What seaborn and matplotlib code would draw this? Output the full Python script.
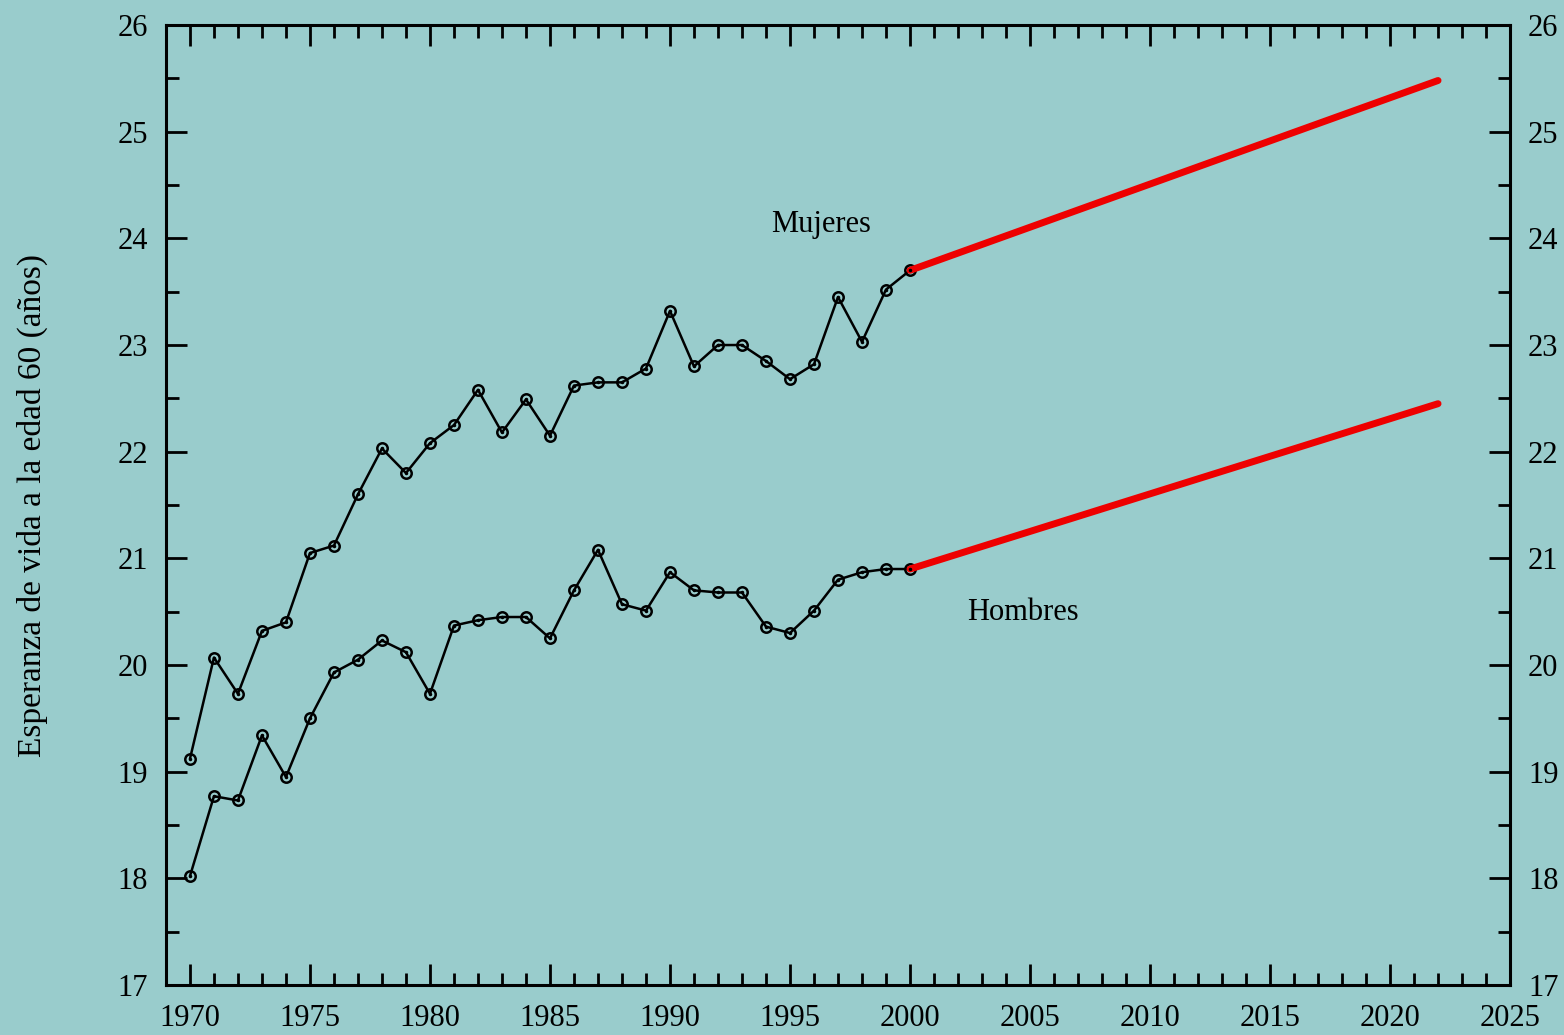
import numpy as np
import pandas as pd
import matplotlib
matplotlib.use("Agg")
import matplotlib.pyplot as plt
import seaborn as sns
from matplotlib.ticker import MultipleLocator

years = list(range(1970, 2001))
mujeres = [19.12, 20.07, 19.73, 20.32, 20.40, 21.05, 21.12, 21.60, 22.03, 21.80,
           22.08, 22.25, 22.58, 22.18, 22.49, 22.15, 22.62, 22.65, 22.65, 22.78,
           23.32, 22.80, 23.00, 23.00, 22.85, 22.68, 22.82, 23.45, 23.03, 23.52,
           23.70]
hombres = [18.02, 18.77, 18.73, 19.34, 18.95, 19.50, 19.93, 20.05, 20.23, 20.12,
           19.73, 20.37, 20.42, 20.45, 20.45, 20.25, 20.70, 21.08, 20.57, 20.51,
           20.87, 20.70, 20.68, 20.68, 20.36, 20.30, 20.51, 20.80, 20.87, 20.90,
           20.90]

# Projections
proj_years = [2000, 2022]
proj_mujeres = [23.70, 25.48]
proj_hombres = [20.90, 22.45]

bg = "#99cccc"
sns.set_style("ticks", {"axes.facecolor": bg, "figure.facecolor": bg,
                        "text.color": "black", "axes.labelcolor": "black"})
plt.rcParams['font.family'] = ['Liberation Serif', 'DejaVu Serif']

df = pd.DataFrame({'year': years + years,
                   'value': mujeres + hombres,
                   'sexo': ['Mujeres'] * len(years) + ['Hombres'] * len(years)})
df_proj = pd.DataFrame({'year': proj_years + proj_years,
                        'value': proj_mujeres + proj_hombres,
                        'sexo': ['Mujeres'] * 2 + ['Hombres'] * 2})

fig = plt.figure(figsize=(15.64, 10.35), dpi=100)
ax = fig.add_axes([0.1061, 0.0483, 0.8594, 0.9275])

for sexo in ['Mujeres', 'Hombres']:
    sub = df[df['sexo'] == sexo]
    sns.lineplot(data=sub, x='year', y='value', color='black',
                 linewidth=1.8, marker='o', markersize=7.5, markerfacecolor='none',
                 markeredgecolor='black', markeredgewidth=1.8, ax=ax)
    sns.lineplot(data=df_proj[df_proj['sexo'] == sexo], x='year', y='value',
                 color='#ee0000', linewidth=5, solid_capstyle='round', ax=ax)
    # small dot inside markers
    ax.plot(sub['year'], sub['value'], linestyle='none', marker='o', markersize=1.5,
            color='black')

ax.set_xlim(1969, 2025)
ax.set_ylim(17, 26)
ax.xaxis.set_major_locator(MultipleLocator(5))
ax.xaxis.set_minor_locator(MultipleLocator(1))
ax.yaxis.set_major_locator(MultipleLocator(1))
ax.yaxis.set_minor_locator(MultipleLocator(0.5))
ax.set_xticks(range(1970, 2026, 5))

ax.tick_params(which='both', direction='in', top=True, right=True,
               labelright=True, width=2, labelsize=22, colors='black')
ax.tick_params(axis='x', which='major', pad=14)
ax.tick_params(axis='y', which='major', pad=13)
ax.tick_params(which='major', length=15)
ax.tick_params(which='minor', length=9)
for s in ax.spines.values():
    s.set_linewidth(2.2)
    s.set_color('black')

ax.set_xlabel('')
ax.set_ylabel('Esperanza de vida a la edad 60 (años)', fontsize=24, labelpad=50,
              color='black')

ax.text(1996.3, 24.13, 'Mujeres', fontsize=22, ha='center', va='center', color='black')
ax.text(2004.7, 20.49, 'Hombres', fontsize=22, ha='center', va='center', color='black')

fig.savefig('out.png', dpi=100, facecolor=bg)
